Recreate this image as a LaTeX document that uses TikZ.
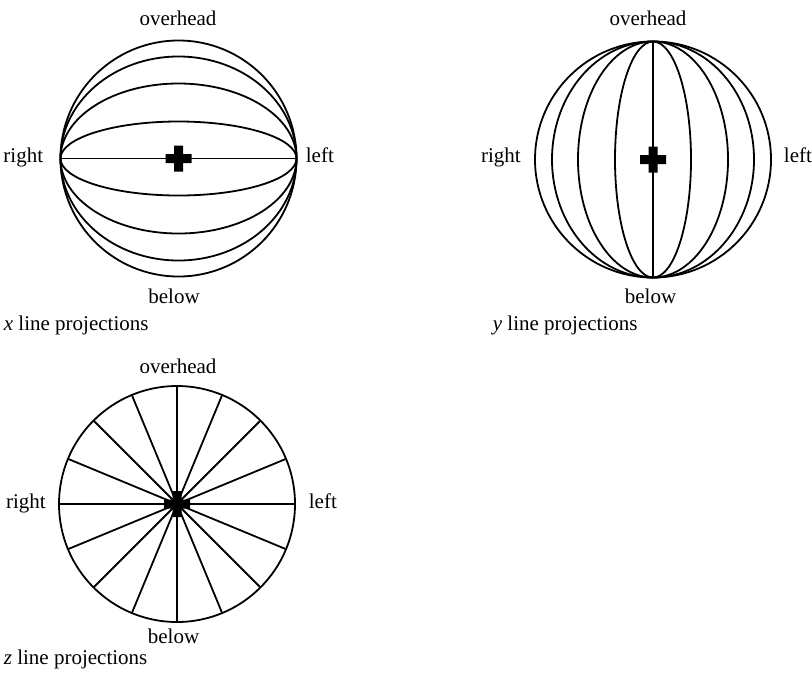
\documentclass[tikz,border=0pt]{standalone}
\usepackage{fontspec}
\setmainfont{Liberation Serif}
\begin{document}
\begin{tikzpicture}[x=0.5pt,y=-0.5pt,line width=0.9pt,
  lbl/.style={font=\fontsize{10.5}{12}\selectfont, inner sep=0pt},
  crossmark/.pic={\fill (-13,-4.5) -- (-4.5,-4.5) -- (-4.5,-13) -- (4.5,-13) -- (4.5,-4.5) -- (13,-4.5) -- (13,4.5) -- (4.5,4.5) -- (4.5,13) -- (-4.5,13) -- (-4.5,4.5) -- (-13,4.5) -- cycle;}]
\useasboundingbox (0,0) rectangle (812,681);

% ---- x line projections ----
\coordinate (c1) at (178.5,158.5);
\draw (c1) circle [radius=118];
\foreach \b in {37,75,102} \draw (c1) ellipse [x radius=118, y radius=\b];
\draw (c1) +(-118,0) -- +(118,0);
\pic at (c1) {crossmark};
\node[lbl, anchor=base] (o1) at (178,25) {overhead};
\node[lbl, anchor=base] (b1) at (174,303) {below};
\node[lbl, anchor=base east] (r1) at (44,162) {right};
\node[lbl, anchor=base west] (l1) at (305,162) {left};
\node[lbl, anchor=base west] (t1) at (3,330) {\textit{x} line projections};

% ---- y line projections ----
\coordinate (c2) at (653,159.5);
\draw (c2) circle [radius=118];
\foreach \a in {38,75,101} \draw (c2) ellipse [x radius=\a, y radius=118];
\draw (c2) +(0,-118) -- +(0,118);
\pic at (c2) {crossmark};
\node[lbl, anchor=base] (o2) at (648,25) {overhead};
\node[lbl, anchor=base] (b2) at (650.5,303) {below};
\node[lbl, anchor=base east] (r2) at (521.7,162) {right};
\node[lbl, anchor=base west] (l2) at (783,162) {left};
\node[lbl, anchor=base west] (t2) at (492,330) {\textit{y} line projections};

% ---- z line projections ----
\coordinate (c3) at (177,504);
\draw (c3) circle [radius=118];
\foreach \a in {0,22.5,...,157.5} \draw (c3) +(\a:118) -- +(\a+180:118);
\pic at (c3) {crossmark};
\node[lbl, anchor=base] (o3) at (178,373) {overhead};
\node[lbl, anchor=base] (b3) at (173.5,643) {below};
\node[lbl, anchor=base east] (r3) at (46.7,508) {right};
\node[lbl, anchor=base west] (l3) at (308,508) {left};
\node[lbl, anchor=base west] (t3) at (3,664) {\textit{z} line projections};
\end{tikzpicture}
\end{document}
